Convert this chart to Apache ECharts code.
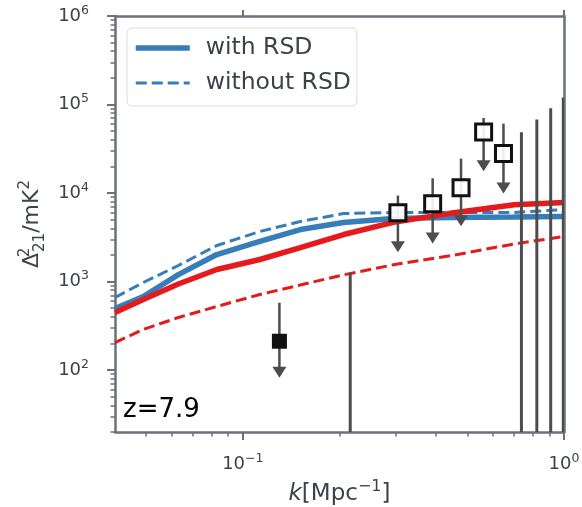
<!DOCTYPE html>
<html>
<head>
<meta charset="utf-8">
<script src="https://cdn.jsdelivr.net/npm/echarts@6/dist/echarts.min.js"></script>
<style>
html,body{margin:0;padding:0;background:#fff;}
#chart{width:582px;height:507px;}
</style>
</head>
<body>
<div id="chart"></div>
<script>
// ---- data ----
const kGrid = [0.04, 0.049, 0.063, 0.083, 0.113, 0.151, 0.206, 0.294, 0.442, 0.7, 1.0];
const blueWithRSD    = [497, 679, 1200, 2020, 2840, 3870, 4650, 5160, 5290, 5360, 5430];
const blueWithoutRSD = [661, 977, 1520, 2555, 3680, 4770, 5870, 6020, 6020, 6050, 6500];
const redWithRSD     = [448, 628, 940, 1370, 1776, 2426, 3400, 4670, 5900, 7360, 7810];
const redWithoutRSD  = [205, 288, 393, 524, 715, 915, 1193, 1547, 1955, 2665, 3228];

// upper limits (filled marker)
const filledK   = [0.130];
const filledVal = [212];
const filledTop = [577];
const filledTip = [82];
// upper limits (open markers)
const openK   = [0.304, 0.390, 0.478, 0.562, 0.648];
const openVal = [5980, 7550, 11450, 49070, 27900];
const openTop = [9370, 14690, 24490, 70600, 60870];
const openTip = [2147, 2690, 4220, 17620, 9870];
// error bars reaching down below the axis
const barK   = [0.216, 0.737, 0.823, 0.909, 0.995];
const barTop = [1257, 48530, 67530, 90570, 119700];

// axes
const xMin = 0.04, xMax = 1;
const yMin = 20, yMax = 1e6;
const xMajorTicks = [0.1, 1];
const xMinorTicks = [0.05, 0.06, 0.07, 0.08, 0.09, 0.2, 0.3, 0.4, 0.5, 0.6, 0.7, 0.8, 0.9];
const yMajorTicks = [100, 1000, 10000, 100000, 1000000];
const yMinorTicks = [];
[10, 100, 1000, 10000, 100000].forEach(d => { for (let m = 2; m <= 9; m++) { const v = m * d; if (v >= yMin && v <= yMax) yMinorTicks.push(v); } });

const legendNames = ['with RSD', 'without RSD'];
const zLabel = 'z=7.9';

// ---- style ----
const FONT = 'DejaVu Sans';
const spine = '#6b717b';
const txt = '#3d4149';
const blue = '#377eb8';
const red = '#e41a1c';
const barCol = '#4d4d4d';

const supRich = {
  b: {fontSize: 18, fontFamily: FONT, color: txt, lineHeight: 24},
  s: {fontSize: 12.5, fontFamily: FONT, color: txt, lineHeight: 12, verticalAlign: 'top'}
};
function powLabel(v) {
  const e = Math.round(Math.log10(v));
  return '{b|10}{s|' + String(e).replace('-', '\u2212') + '}';
}

const zip = (a, b) => a.map((v, i) => [v, b[i]]);
const zip3 = (a, b, c) => a.map((v, i) => [v, b[i], c[i]]);

function limitRender(params, api) {
  const k = api.value(0), top = api.value(1), tip = api.value(2);
  const p1 = api.coord([k, top]);
  const p2 = api.coord([k, tip]);
  const aw = 7, ah = 11;
  return {
    type: 'group',
    children: [
      {type: 'line', shape: {x1: p1[0], y1: p1[1], x2: p2[0], y2: p2[1] - ah + 1},
       style: {stroke: barCol, lineWidth: 2.5}},
      {type: 'polygon', shape: {points: [[p2[0] - aw, p2[1] - ah], [p2[0] + aw, p2[1] - ah], [p2[0], p2[1]]]},
       style: {fill: barCol}}
    ]
  };
}
function barRender(params, api) {
  const k = api.value(0), top = api.value(1);
  const p1 = api.coord([k, top]);
  const p2 = api.coord([k, yMin]);
  return {type: 'line', shape: {x1: p1[0], y1: p1[1], x2: p2[0], y2: p2[1]},
          style: {stroke: barCol, lineWidth: 3}};
}

const chart = echarts.init(document.getElementById('chart'), null, {renderer: 'canvas'});
const option = {
  animation: false,
  backgroundColor: '#fff',
  grid: {left: 115, right: 18, top: 16, bottom: 75, containLabel: false, outerBoundsMode: 'none'},
  legend: {
    data: legendNames,
    orient: 'vertical', left: 127, top: 28,
    padding: [8, 6, 11, 6],
    itemWidth: 54, itemHeight: 20, itemGap: 11,
    backgroundColor: '#fff', borderColor: '#dcdcdc', borderWidth: 1, borderRadius: 5,
    itemStyle: {opacity: 0},
    lineStyle: {width: 'inherit'},
    textStyle: {fontSize: 23.5, color: txt, fontFamily: FONT, padding: [0, 0, 0, 11]}
  },
  xAxis: [
    {type: 'log', logBase: 10, min: xMin, max: xMax, position: 'bottom',
     axisLine: {show: true, lineStyle: {color: spine, width: 2.5}},
     axisTick: {show: true, customValues: xMajorTicks, length: 8, lineStyle: {color: spine, width: 2}},
     axisLabel: {show: true, customValues: xMajorTicks, formatter: powLabel, rich: supRich, margin: 20},
     splitLine: {show: false},
     name: '{i|k}{n|[Mpc}{s|\u22121}{n|]}', nameLocation: 'middle', nameGap: 47,
     nameTextStyle: {rich: {
       i: {fontSize: 23, fontFamily: FONT, color: txt, fontStyle: 'italic', lineHeight: 30},
       n: {fontSize: 23, fontFamily: FONT, color: txt, lineHeight: 30},
       s: {fontSize: 16, fontFamily: FONT, color: txt, lineHeight: 16, verticalAlign: 'top'}
     }}},
    {type: 'log', logBase: 10, min: xMin, max: xMax, position: 'bottom',
     axisLine: {show: false},
     axisTick: {show: true, customValues: xMinorTicks, length: 4.5, lineStyle: {color: spine, width: 1.5}},
     axisLabel: {show: false}, splitLine: {show: false}},
    {type: 'log', logBase: 10, min: xMin, max: xMax, position: 'top',
     axisLine: {show: true, lineStyle: {color: spine, width: 2.5}},
     axisTick: {show: true, customValues: xMajorTicks, length: 6, lineStyle: {color: spine, width: 2}},
     axisLabel: {show: false}, splitLine: {show: false}}
  ],
  yAxis: [
    {type: 'log', logBase: 10, min: yMin, max: yMax, position: 'left',
     axisLine: {show: true, lineStyle: {color: spine, width: 2.5}},
     axisTick: {show: true, customValues: yMajorTicks, length: 8, lineStyle: {color: spine, width: 2}},
     axisLabel: {show: true, customValues: yMajorTicks, formatter: powLabel, rich: supRich, margin: 26},
     splitLine: {show: false},
     name: '{d|\u0394}{sp|2}{sb|21}{n|/mK}{sp2|2}', nameLocation: 'middle', nameGap: 62,
     nameTextStyle: {rich: {
       d: {fontSize: 22, fontFamily: FONT, color: txt, lineHeight: 30},
       sp: {fontSize: 15, fontFamily: FONT, color: txt, lineHeight: 15, verticalAlign: 'top', width: 1},
       sb: {fontSize: 15, fontFamily: FONT, color: txt, lineHeight: 15, verticalAlign: 'bottom'},
       n: {fontSize: 22, fontFamily: FONT, color: txt, lineHeight: 30},
       sp2: {fontSize: 15, fontFamily: FONT, color: txt, lineHeight: 15, verticalAlign: 'top'}
     }}},
    {type: 'log', logBase: 10, min: yMin, max: yMax, position: 'left',
     axisLine: {show: false},
     axisTick: {show: true, customValues: yMinorTicks, length: 4.5, lineStyle: {color: spine, width: 1.5}},
     axisLabel: {show: false}, splitLine: {show: false}},
    {type: 'log', logBase: 10, min: yMin, max: yMax, position: 'right',
     axisLine: {show: true, lineStyle: {color: spine, width: 2.5}},
     axisTick: {show: false}, axisLabel: {show: false}, splitLine: {show: false}}
  ],
  series: [
    {name: 'with RSD', type: 'line', data: zip(kGrid, blueWithRSD), symbol: 'none', z: 2,
     lineStyle: {color: blue, width: 5.5}, itemStyle: {color: blue}},
    {name: 'without RSD', type: 'line', data: zip(kGrid, blueWithoutRSD), symbol: 'none', z: 2,
     lineStyle: {color: blue, width: 3, type: [11, 5]}, itemStyle: {color: blue}},
    {name: 'model 2 with RSD', type: 'line', data: zip(kGrid, redWithRSD), symbol: 'none', z: 3,
     lineStyle: {color: red, width: 5.5}, itemStyle: {color: red}},
    {name: 'model 2 without RSD', type: 'line', data: zip(kGrid, redWithoutRSD), symbol: 'none', z: 3,
     lineStyle: {color: red, width: 3, type: [11, 5]}, itemStyle: {color: red}},
    {name: 'bars', type: 'custom', renderItem: barRender, data: zip(barK, barTop), clip: true, z: 4,
     encode: {x: 0, y: 1}},
    {name: 'limits filled', type: 'custom', renderItem: limitRender, data: zip3(filledK, filledTop, filledTip), z: 4,
     encode: {x: 0, y: [1, 2]}},
    {name: 'limits open', type: 'custom', renderItem: limitRender, data: zip3(openK, openTop, openTip), z: 4,
     encode: {x: 0, y: [1, 2]}},
    {name: 'filled points', type: 'scatter', data: zip(filledK, filledVal), symbol: 'rect', symbolSize: 15, z: 5,
     itemStyle: {color: '#111', opacity: 1}},
    {name: 'open points', type: 'scatter', data: zip(openK, openVal), symbol: 'rect', symbolSize: 16, z: 5,
     itemStyle: {color: 'rgba(255,255,255,0.9)', borderColor: '#111', borderWidth: 3, opacity: 1}}
  ],
  graphic: [
    {type: 'text', left: 123, top: 397, style: {text: zLabel, fontSize: 26, fontFamily: FONT, fill: '#000'}}
  ]
};
chart.setOption(option);
</script>
</body>
</html>
